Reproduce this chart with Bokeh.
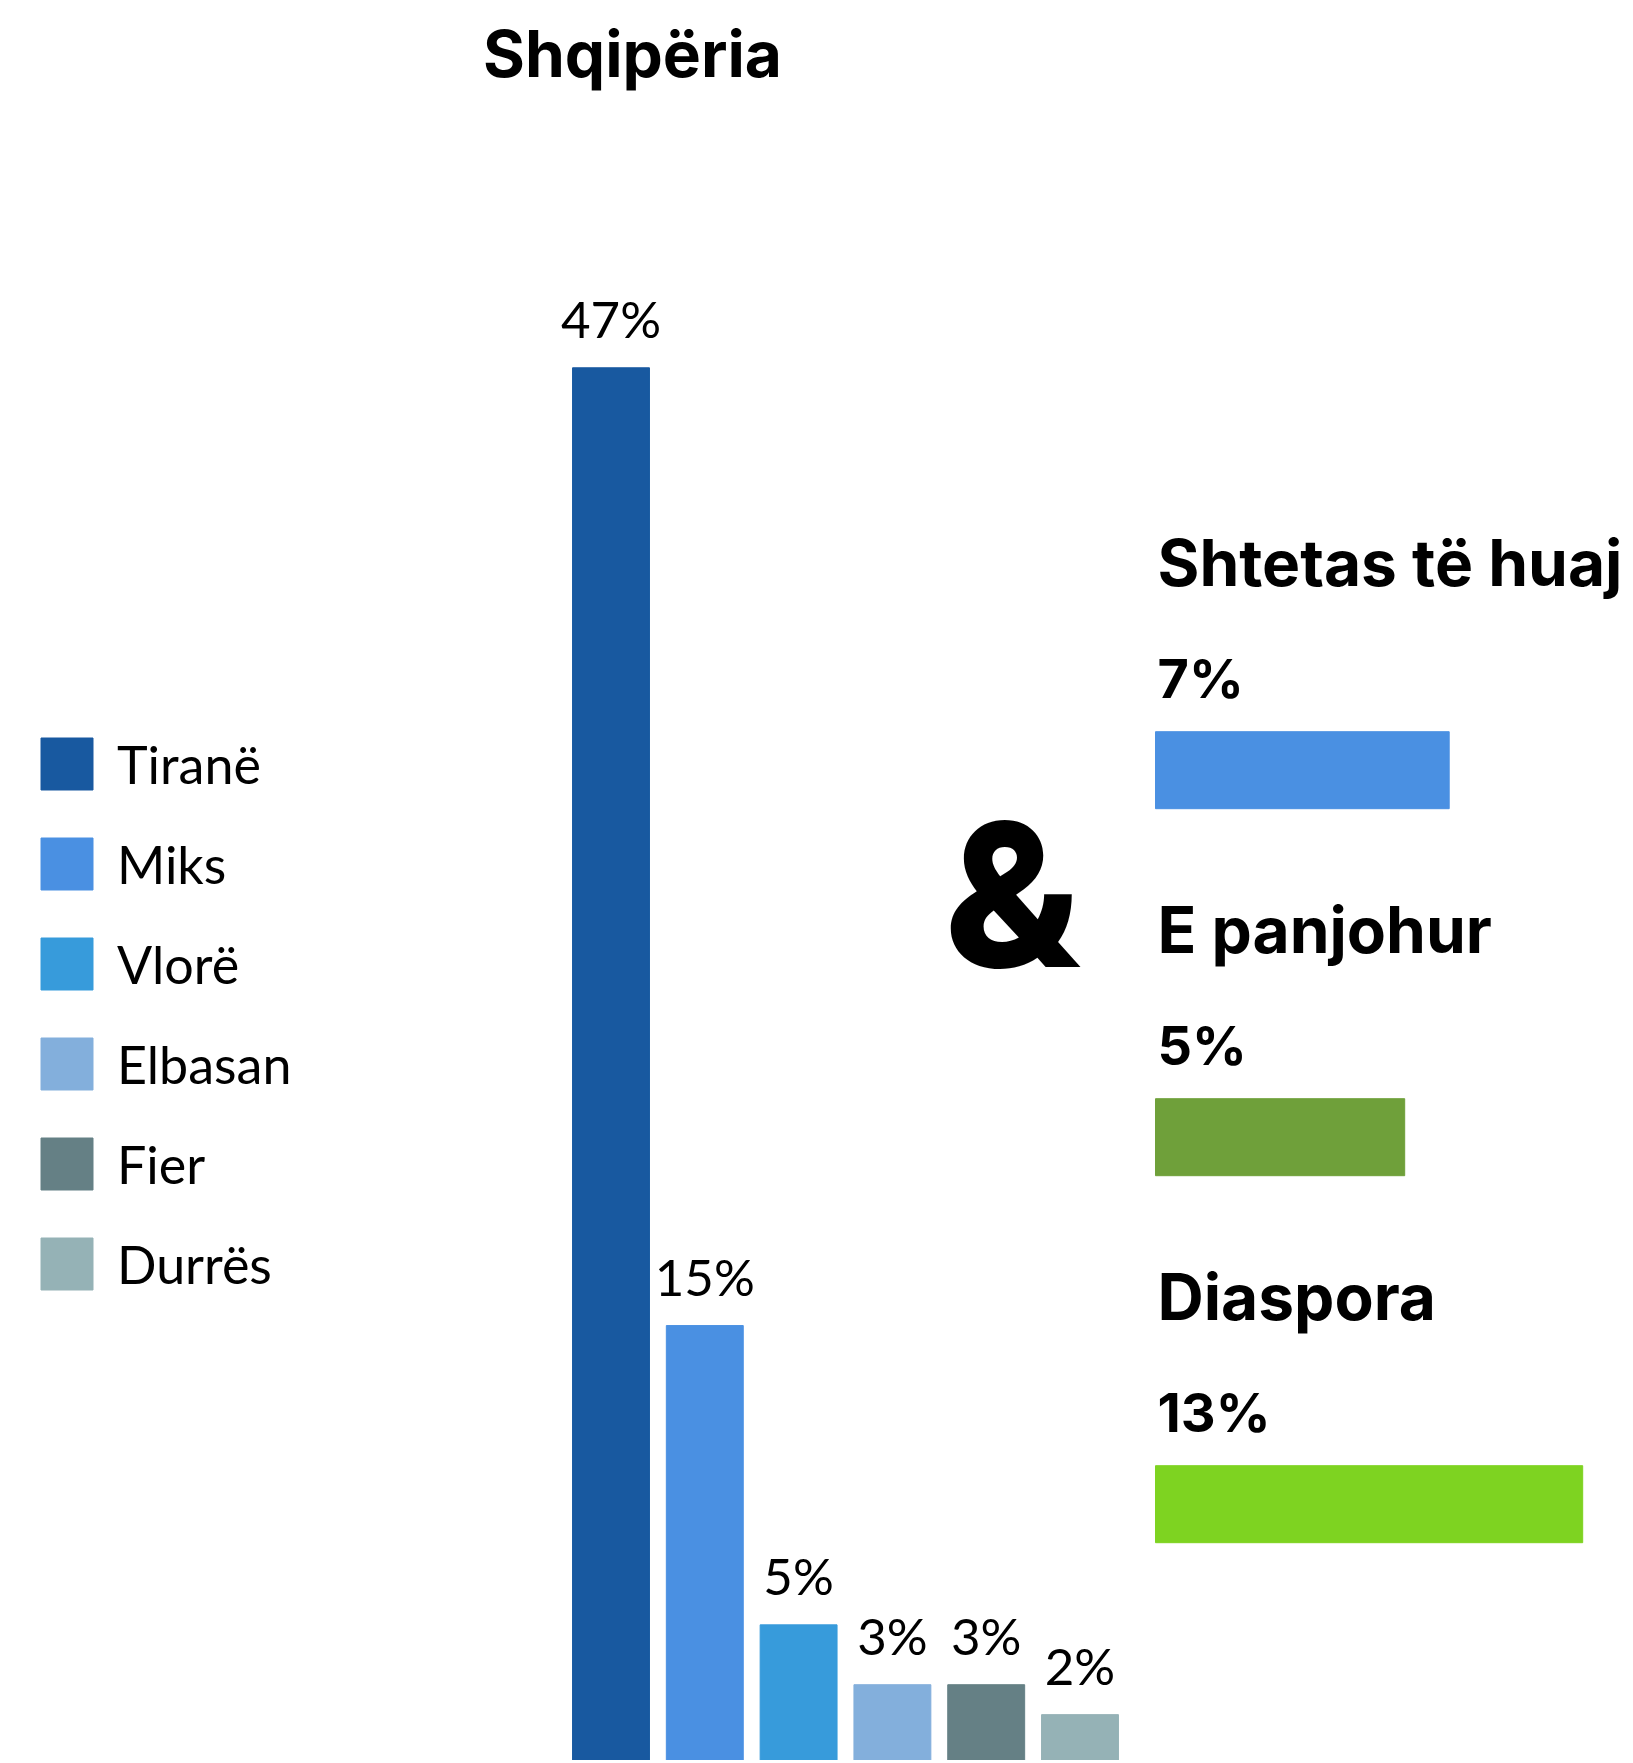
from bokeh.plotting import figure
from bokeh.models import Range1d, Legend, LegendItem, Label, ColumnDataSource, Div
from bokeh.layouts import row
from bokeh.core.properties import value
from bokeh.embed import file_html
from bokeh.resources import INLINE

# ---------------- data ----------------
title = "Shqipëria"
cities = ["Tiranë", "Miks", "Vlorë", "Elbasan", "Fier", "Durrës"]
city_values = [47, 15, 5, 3, 3, 2]
city_colors = ["#1859A0", "#4A90E2", "#379BDB", "#83AFDC", "#658085", "#95B2B6"]

groups = ["Shtetas të huaj", "E panjohur", "Diaspora"]
group_values = [7, 5, 13]
group_colors = ["#4A90E2", "#6FA03A", "#7ED321"]

# ---------------- layout constants ----------------
H = 1760
W1, WD, W2 = 1132, 8, 490
PX_X = 93.8            # px per bar slot
X0 = -610.5 / PX_X     # left edge of left frame in slot units
PX_Y = 29.93           # px per percent
Y0 = 14 / PX_Y         # bottom edge of frame in percent units (zero lies below)

HPX_X = 22.25          # px per percent for horizontal bars
HBAR_BASE = -6.2
HX0 = HBAR_BASE - 15 / HPX_X
HPX_Y = 367.0
HY_TOP = 769.7 / HPX_Y


def sx(px):  # screen px -> left-figure x data
    return X0 + px / PX_X


def sy(py):  # screen px (from top) -> left-figure y data
    return Y0 + (H - py) / PX_Y


def base_fig(w, xr, yr):
    f = figure(width=w, height=H, output_backend="svg", toolbar_location=None,
               x_range=xr, y_range=yr, x_axis_type=None, y_axis_type=None,
               min_border=0)
    f.outline_line_color = None
    return f


# ---------------- left: Shqipëria ----------------
p = base_fig(W1, Range1d(X0, X0 + W1 / PX_X), Range1d(Y0, Y0 + H / PX_Y))

idx = list(range(len(cities)))
src = ColumnDataSource(dict(x=idx, top=city_values, color=city_colors,
                            label=[f"{v}%" for v in city_values]))
vb = p.vbar(x="x", top="top", bottom=0, width=0.82, color="color", source=src)
p.text(x="x", y="top", text="label", source=src, text_font=value("Lato"),
       text_font_size="51px", text_align="center", text_baseline="alphabetic",
       y_offset=-49, text_color="black")

items = [LegendItem(label=c, renderers=[vb], index=i) for i, c in enumerate(cities)]
legend = Legend(items=items, location=(34, 464), glyph_width=65, glyph_height=65,
                label_height=65, spacing=35, label_standoff=18, padding=0, margin=0,
                label_text_font="Lato", label_text_font_size="52px",
                label_text_color="black", border_line_alpha=0,
                background_fill_alpha=0)
p.add_layout(legend)

p.add_layout(Label(x=sx(632), y=sy(53), text=title, text_font="Inter",
                   text_font_style="bold", text_font_size="64px", text_align="center",
                   text_baseline="alphabetic", text_color="black"))

# ---------------- ampersand as HTML (overlaid to the left) ----------------
amp = Div(text=('<div style="position:relative;width:8px;height:%dpx;">'
                '<div style="position:absolute;left:-220px;top:794px;width:200px;'
                'text-align:center;font-family:Inter,sans-serif;font-weight:800;'
                'font-size:200px;line-height:200px;color:#000;">&amp;</div></div>') % H,
          width=WD, height=H, margin=0)

# ---------------- right: other groups ----------------
q = base_fig(W2, Range1d(HX0, HX0 + W2 / HPX_X), Range1d(HY_TOP - H / HPX_Y, HY_TOP))

hy = [-i for i in range(len(groups))]
hsrc = ColumnDataSource(dict(y=hy, right=group_values, color=group_colors, name=groups,
                             label=[f"{v}%" for v in group_values],
                             left=[HBAR_BASE] * len(groups)))
q.hbar(y="y", left="left", right="right", height=77 / HPX_Y, color="color", source=hsrc)
q.text(x="left", y="y", text="name", source=hsrc,
       text_font=value("Inter"), text_font_style="bold", text_font_size="64px",
       text_align="left", text_baseline="alphabetic", y_offset=-208, x_offset=2,
       text_color="black")
q.text(x="left", y="y", text="label", source=hsrc,
       text_font=value("Inter"), text_font_style="bold", text_font_size="54px",
       text_align="left", text_baseline="alphabetic", y_offset=-92, x_offset=2,
       text_color="black")

layout = row(p, amp, q)
open("out.html", "w").write(file_html(layout, INLINE))
